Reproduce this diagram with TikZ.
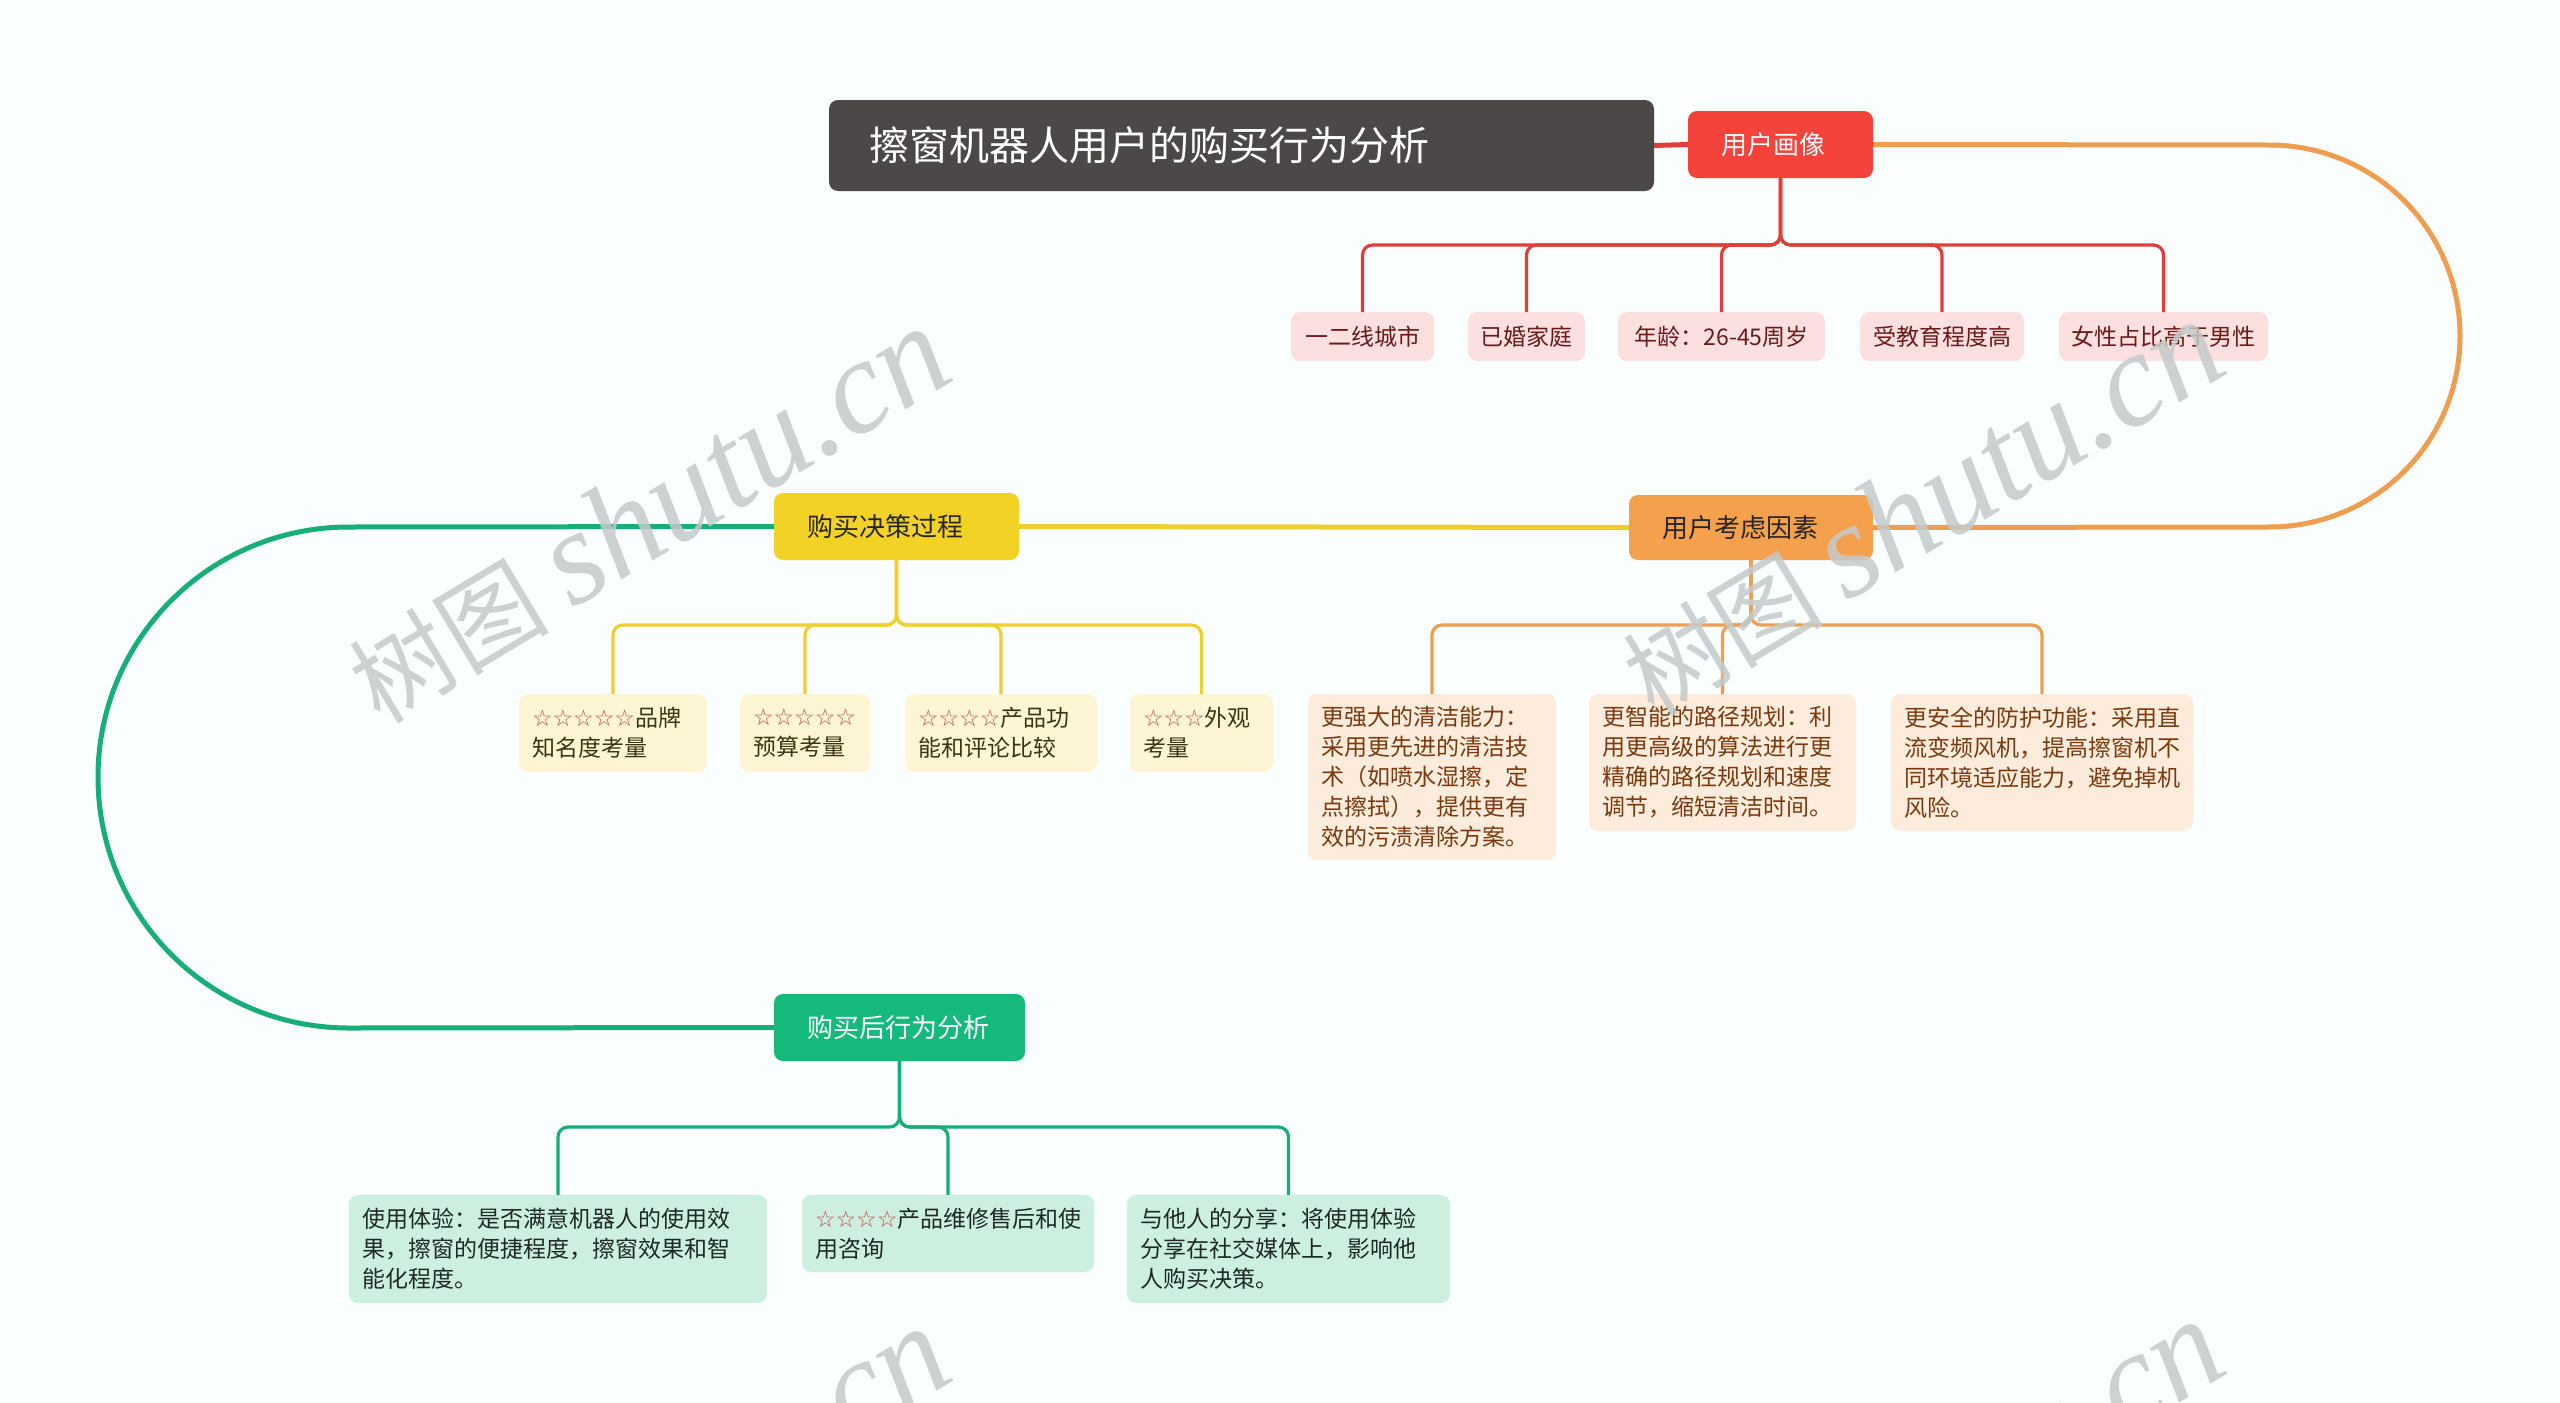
\documentclass[tikz,border=0pt]{standalone}
\usepackage{fontspec}
\setmainfont{Noto Sans CJK SC}
\newfontfamily\symfont{DejaVu Sans}
\newfontfamily\wmlatin{Liberation Serif}
\definecolor{bgc}{HTML}{FAFEFE}
\definecolor{titlec}{HTML}{4D4848}
\definecolor{redc}{HTML}{F4433B}
\definecolor{redline}{HTML}{DE3F3A}
\definecolor{pinkc}{HTML}{FCDFDF}
\definecolor{pinktext}{HTML}{6B1A1A}
\definecolor{orangec}{HTML}{F5A04C}
\definecolor{orangeline}{HTML}{ED9E50}
\definecolor{orangeleaf}{HTML}{FDEBDC}
\definecolor{orangetext}{HTML}{7A3A0E}
\definecolor{yellowc}{HTML}{F2D225}
\definecolor{yellowline}{HTML}{EFCF30}
\definecolor{yellowleaf}{HTML}{FEF5D5}
\definecolor{yellowtext}{HTML}{3E3510}
\definecolor{greenc}{HTML}{14B97B}
\definecolor{greenline}{HTML}{18AE77}
\definecolor{greenleaf}{HTML}{CDEFE0}
\definecolor{greentext}{HTML}{1E2A24}
\definecolor{starc}{HTML}{C0504D}
\definecolor{wmc}{HTML}{C5CACB}
\newcommand\mystars[1]{{\symfont\color{starc}#1}}
\newcommand\wmtext{{\fontsize{100}{100}\selectfont 树图}\hspace{24pt}{\wmlatin\itshape\fontsize{134}{134}\selectfont shutu.cn}}
\begin{document}
\begin{tikzpicture}[x=1pt,y=-1pt,
  box/.style={anchor=north west, rounded corners=9pt, inner sep=0pt, outer sep=0pt},
  titlebox/.style={box, fill=titlec, text=white, font=\fontsize{40}{48}\selectfont, align=left, inner xsep=40pt, text width=745pt, minimum height=91pt},
  mainbox/.style={box, font=\fontsize{26}{30}\selectfont, align=left, inner xsep=33pt},
  pinkleaf/.style={box, fill=pinkc, text=pinktext, font=\fontsize{23}{30}\selectfont, minimum height=49pt},
  multileaf/.style={box, font=\fontsize{23}{30}\selectfont, align=left, inner xsep=13pt},
  yleaf/.style={multileaf, fill=yellowleaf, text=yellowtext, minimum height=78pt},
  oleaf/.style={multileaf, fill=orangeleaf, text=orangetext},
  gleaf/.style={multileaf, fill=greenleaf, text=greentext},
  curve/.style={line width=5pt},
  branch/.style={line width=3.2pt, rounded corners=10pt},
  wm/.style={rotate=31, text=wmc, opacity=0.85}
]
\useasboundingbox (0,0) rectangle (2560,1403);
\fill[bgc] (0,0) rectangle (2560,1403);

% nodes
\node[titlebox] (title) at (829,100) {擦窗机器人用户的购买行为分析};
\node[mainbox, fill=redc, text=white, text width=119pt, minimum height=67pt] (u1) at (1688,111) {用户画像};
\node[mainbox, fill=orangec, text=black!85, text width=178pt, minimum height=65pt] (o1) at (1629,495) {用户考虑因素};
\node[mainbox, fill=yellowc, text=black!85, text width=179pt, minimum height=67pt] (g1) at (774,493) {购买决策过程};
\node[mainbox, fill=greenc, text=white, text width=185pt, minimum height=67pt] (g2) at (774,994) {购买后行为分析};

\node[pinkleaf, minimum width=143pt] (p1) at (1291,312) {一二线城市};
\node[pinkleaf, minimum width=117pt] (p2) at (1468,312) {已婚家庭};
\node[pinkleaf, minimum width=207pt] (p3) at (1618,312) {年龄：26-45周岁};
\node[pinkleaf, minimum width=164pt] (p4) at (1860,312) {受教育程度高};
\node[pinkleaf, minimum width=209pt] (p5) at (2059,312) {女性占比高于男性};

\node[yleaf, text width=162pt] (y1) at (519,694) {\mystars{☆☆☆☆☆}品牌\\知名度考量};
\node[yleaf, text width=104pt] (y2) at (740,694) {\mystars{☆☆☆☆☆}\\预算考量};
\node[yleaf, text width=166pt] (y3) at (905,694) {\mystars{☆☆☆☆}产品功\\能和评论比较};
\node[yleaf, text width=117pt] (y4) at (1130,694) {\mystars{☆☆☆}外观\\考量};

\node[oleaf, text width=222pt, minimum height=166pt] (oa) at (1308,694) {更强大的清洁能力：\\采用更先进的清洁技\\术（如喷水湿擦，定\\点擦拭），提供更有\\效的污渍清除方案。};
\node[oleaf, text width=241pt, minimum height=137pt] (ob) at (1589,694) {更智能的路径规划：利\\用更高级的算法进行更\\精确的路径规划和速度\\调节，缩短清洁时间。};
\node[oleaf, text width=276pt, minimum height=137pt] (oc) at (1891,694) {更安全的防护功能：采用直\\流变频风机，提高擦窗机不\\同环境适应能力，避免掉机\\风险。};

\node[gleaf, text width=392pt, minimum height=108pt] (ga) at (349,1195) {使用体验：是否满意机器人的使用效\\果，擦窗的便捷程度，擦窗效果和智\\能化程度。};
\node[gleaf, text width=266pt, minimum height=77pt] (gb) at (802,1195) {\mystars{☆☆☆☆}产品维修售后和使\\用咨询};
\node[gleaf, text width=297pt, minimum height=108pt] (gc) at (1127,1195) {与他人的分享：将使用体验\\分享在社交媒体上，影响他\\人购买决策。};

% main connectors
\draw[curve, redline] (title.east) -- (u1.west);
\draw[curve, orangeline] (u1.east) -- (2269,145) .. controls (2375,145) and (2460,230) .. (2460,336) .. controls (2460,442) and (2375,527) .. (2269,527) -- (o1.east);
\draw[curve, yellowline] (g1.east) -- (o1.west);
\draw[curve, greenline] (g1.west) -- (349,527) .. controls (210,527) and (98,639) .. (98,777) .. controls (98,916) and (210,1028) .. (349,1028) -- (g2.west);

% branches
\foreach \c in {p1,p2,p3,p4,p5} \draw[branch, redline] (u1.south) -- ++(0,67) -| (\c.north);
\foreach \c in {y1,y2,y3,y4} \draw[branch, yellowline] (g1.south) -- ++(0,65) -| (\c.north);
\foreach \c in {oa,ob,oc} \draw[branch, orangeline] (o1.south) -- ++(0,65) -| (\c.north);
\foreach \c in {ga,gb,gc} \draw[branch, greenline] (g2.south) -- ++(0,66) -| (\c.north);

% watermarks
\begin{scope}
\clip (0,0) rectangle (2560,1403);
\node[wm] (wm1) at (648,515) {\wmtext};
\node[wm] (wm2) at (1922,508) {\wmtext};
\node[wm] (wm3) at (648,1515) {\wmtext};
\node[wm] (wm4) at (1922,1508) {\wmtext};
\end{scope}
\end{tikzpicture}
\end{document}
